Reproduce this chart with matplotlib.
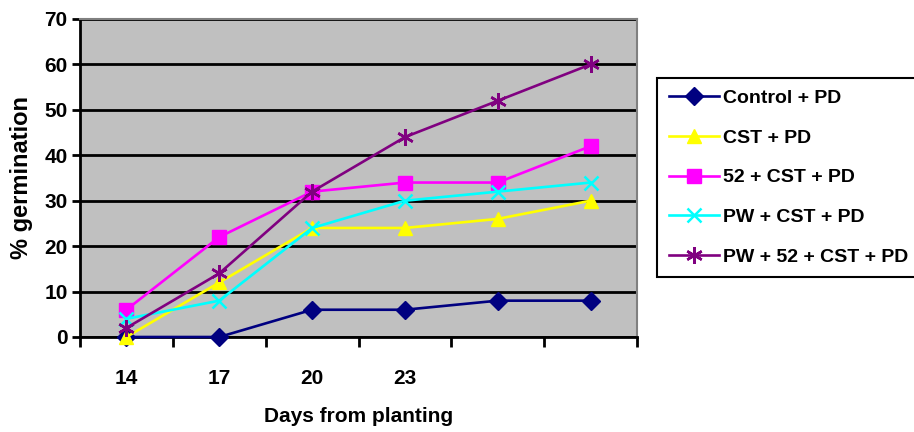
import matplotlib
matplotlib.use("Agg")
import matplotlib.pyplot as plt

plt.rcParams['font.family'] = ['Liberation Sans', 'DejaVu Sans']
plt.rcParams['font.weight'] = 'bold'

# Sampling days (last two sampling dates carry no printed label)
day_labels = ["14", "17", "20", "23", "", ""]

control_pd = [0, 0, 6, 6, 8, 8]
cst_pd = [0, 12, 24, 24, 26, 30]
s52_cst_pd = [6, 22, 32, 34, 34, 42]
pw_cst_pd = [4, 8, 24, 30, 32, 34]
pw_52_cst_pd = [2, 14, 32, 44, 52, 60]

series_names = ["Control + PD", "CST + PD", "52 + CST + PD", "PW + CST + PD", "PW + 52 + CST + PD"]
series_values = [control_pd, cst_pd, s52_cst_pd, pw_cst_pd, pw_52_cst_pd]
series_colors = ["#000080", "#FFFF00", "#FF00FF", "#00FFFF", "#800080"]
series_markers = ["D", "^", "s", "x", (6, 2, 0)]
marker_sizes = [9, 10, 10, 10, 12]

fig = plt.figure(figsize=(9.14, 4.32), dpi=100)
ax = fig.add_axes([80 / 914, 1 - 337 / 432, (637 - 80) / 914, (337 - 19) / 432])
ax.set_facecolor("#C0C0C0")

positions = list(range(len(day_labels)))
handles = []
for name, vals, col, mk, ms in zip(series_names, series_values, series_colors, series_markers, marker_sizes):
    mew = 1.8 if mk == "x" or isinstance(mk, tuple) else 1.0
    h, = ax.plot(positions, vals, color=col, lw=1.9, marker=mk, markersize=ms,
                 markerfacecolor=col, markeredgecolor=col, markeredgewidth=mew,
                 label=name, clip_on=False, zorder=3)
    handles.append(h)

ax.set_xlim(-0.5, len(day_labels) - 0.5)
ax.set_ylim(0, 70)
ax.set_yticks(range(0, 71, 10))
ax.set_yticklabels([str(v) for v in range(0, 71, 10)], fontsize=15, fontweight='bold')
ax.yaxis.grid(True, color="black", lw=2)
ax.set_axisbelow(True)

ax.set_xticks([p - 0.5 for p in positions] + [len(day_labels) - 0.5])
ax.set_xticklabels([])
ax.set_xticks(positions, minor=True)
ax.set_xticklabels(day_labels, minor=True, fontsize=15, fontweight='bold')
ax.tick_params(axis='x', which='major', direction='out', length=7, width=2, color='black')
ax.tick_params(axis='x', which='minor', length=0, pad=23)
ax.tick_params(axis='y', direction='out', length=6, width=2, pad=3)

ax.spines['left'].set_linewidth(2)
ax.spines['bottom'].set_linewidth(2)
ax.spines['top'].set_color('#808080')
ax.spines['right'].set_color('#808080')
ax.spines['top'].set_linewidth(1.5)
ax.spines['right'].set_linewidth(1.5)

ax.set_ylabel("% germination", fontsize=17, fontweight='bold')
ax.yaxis.set_label_coords(-0.084, 0.5)
ax.set_xlabel("Days from planting", fontsize=15, fontweight='bold', labelpad=14)

leg = fig.legend(handles=handles, loc='upper left', bbox_to_anchor=(657 / 914, 1 - 78 / 432),
                 frameon=True, fancybox=False, edgecolor='black', framealpha=1,
                 prop={'size': 14, 'weight': 'bold'}, handlelength=2.6, handletextpad=0.2,
                 labelspacing=1.13, borderpad=0.6, borderaxespad=0)
leg.get_frame().set_linewidth(1.5)

fig.savefig("out.png", dpi=100, facecolor="white")
